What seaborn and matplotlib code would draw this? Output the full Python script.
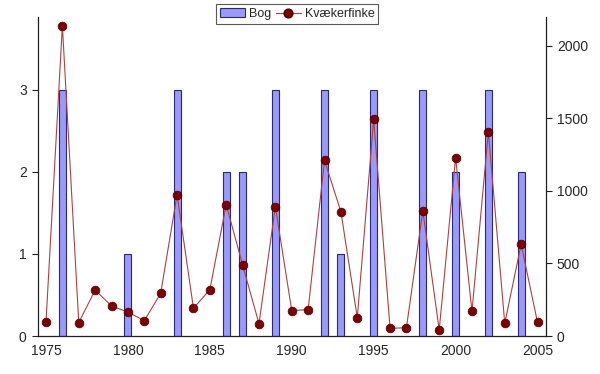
import numpy as np
import pandas as pd
import matplotlib
matplotlib.use("Agg")
import matplotlib.pyplot as plt
import seaborn as sns
from matplotlib.ticker import MultipleLocator, FixedLocator

years = list(range(1975, 2006))
bog = [0, 3, 0, 0, 0, 1, 0, 0, 3, 0, 0, 2, 2, 0, 3, 0,
       0, 3, 1, 0, 3, 0, 0, 3, 0, 2, 0, 3, 0, 2, 0]
kvaekerfinke = [95, 2140, 92, 317, 207, 165, 106, 294, 975, 191,
                319, 906, 490, 85, 892, 175, 182, 1211, 857, 126,
                1494, 53, 57, 864, 41, 1230, 170, 1407, 87, 632, 94]

df = pd.DataFrame({"year": years, "bog": bog, "kvaekerfinke": kvaekerfinke})

sns.set_style("white")
plt.rcParams["font.family"] = ["Liberation Sans", "DejaVu Sans"]
plt.rcParams["font.size"] = 10

fig = plt.figure(figsize=(6.0, 3.74), dpi=100)
ax = fig.add_axes([0.063, 0.1016, 0.8465, 0.853])

# only the years with a mast score get a bar
bars = df[df["bog"] > 0]
sns.barplot(data=bars, x="year", y="bog", native_scale=True, width=0.42,
            color="#9999ff", saturation=1, edgecolor="#2a2a70",
            linewidth=0.8, ax=ax)
ax.set_xlim(1974.5, 2005.5)
ax.set_ylim(0, 3.89)
ax.yaxis.set_major_locator(FixedLocator([0, 1, 2, 3]))

ax2 = ax.twinx()
sns.lineplot(data=df, x="year", y="kvaekerfinke", ax=ax2, color="#b04040",
             linewidth=0.8, marker="o", markersize=6.3,
             markerfacecolor="#800000", markeredgecolor="#4a0000",
             markeredgewidth=0.5)
ax2.set_ylim(0, 2200)
ax2.yaxis.set_major_locator(MultipleLocator(500))

# category-style x axis: labels on years, tick marks between years
ax.set_xticks(range(1975, 2006, 5))
ax.xaxis.set_minor_locator(FixedLocator(np.arange(1974.5, 2006, 1)))
ax.tick_params(axis="x", which="major", length=0, pad=6, labelsize=10)
ax.tick_params(axis="x", which="minor", length=4, width=0.8, direction="out",
               color="#202020")
ax.tick_params(axis="y", length=4, width=0.8, direction="out", left=True,
               color="#202020", pad=4, labelsize=10)
ax2.tick_params(axis="y", length=4, width=0.8, direction="out", right=True,
                color="#202020", pad=4, labelsize=10)

for a in (ax, ax2):
    a.set_xlabel("")
    a.set_ylabel("")
    a.spines["top"].set_visible(False)
    for s in ("left", "bottom", "right"):
        a.spines[s].set_color("#202020")
        a.spines[s].set_linewidth(0.9)
ax.spines["right"].set_visible(False)
ax2.spines["left"].set_visible(False)
ax2.spines["bottom"].set_visible(False)

h1 = plt.Rectangle((0, 0), 1, 1, facecolor="#9999ff", edgecolor="#2a2a70",
                   linewidth=0.8)
h2 = plt.Line2D([], [], color="#b04040", linewidth=0.8, marker="o",
                markersize=6.3, markerfacecolor="#800000",
                markeredgecolor="#4a0000")
leg = fig.legend([h1, h2], ["Bog", "Kvækerfinke"], ncol=2,
                 loc="upper left", bbox_to_anchor=(0.36, 0.988),
                 frameon=True, fancybox=False, fontsize=9,
                 handlelength=2.0, handletextpad=0.3, columnspacing=0.4,
                 borderpad=0.3, borderaxespad=0)
leg.get_frame().set_edgecolor("#303030")
leg.get_frame().set_linewidth(0.8)

fig.savefig("out.png", dpi=100)
